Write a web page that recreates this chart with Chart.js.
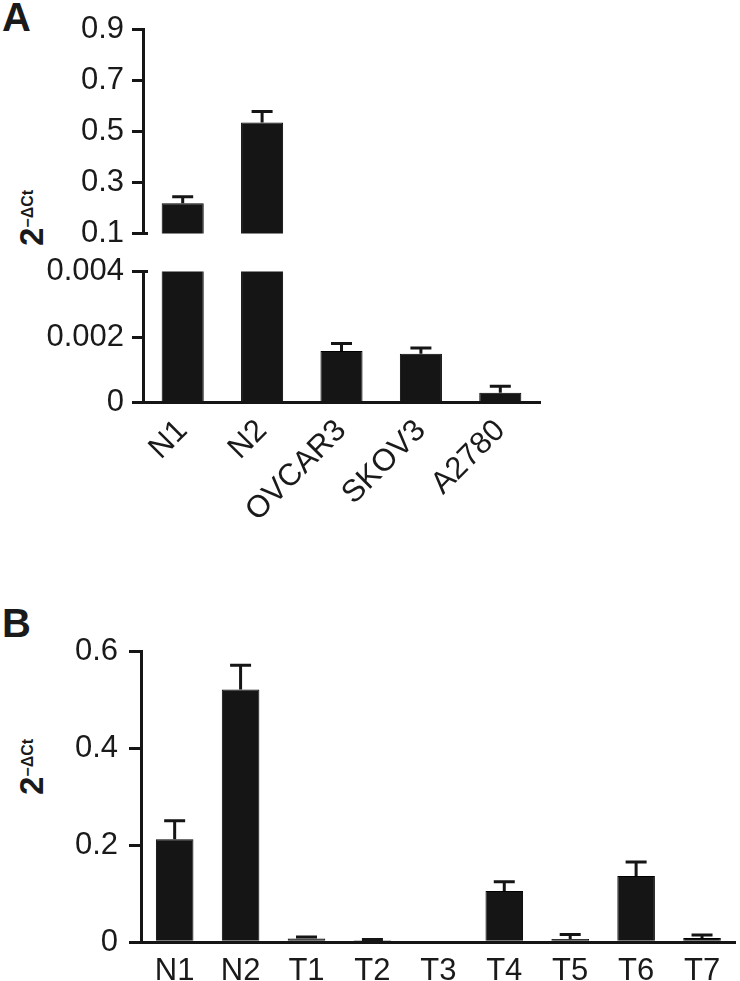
<!doctype html>
<html lang="en">
<head>
<meta charset="utf-8">
<title>2-ΔCt expression</title>
<style>
  body { margin: 0; background: #fff; }
  #wrap { position: relative; width: 740px; height: 981px; overflow: hidden;
          font-family: 'Liberation Sans', Arial, Helvetica, sans-serif; color: #1a1a1a; }
  canvas { position: absolute; left: 0; }
  .panel { position: absolute; left: 2px; font-weight: bold; font-size: 40px; line-height: 40px; }
  .ytitle { position: absolute; transform: translate(-50%, -50%) rotate(-90deg);
            font-weight: bold; font-size: 33px; line-height: 33px; white-space: nowrap; }
  .ytitle sup { font-size: 16px; vertical-align: 10px; }
</style>
<script src="https://cdn.jsdelivr.net/npm/chart.js@4.4.1/dist/chart.umd.min.js"></script>
</head>
<body>
<div id="wrap">
  <div class="panel" style="top:-3px">A</div>
  <div class="ytitle" style="left:29px; top:218px">2<sup>&minus;&Delta;Ct</sup></div>
  <canvas id="aTop" width="740" height="260" style="top:0"></canvas>
  <canvas id="aBot" width="740" height="300" style="top:245px"></canvas>

  <div class="panel" style="top:603px">B</div>
  <div class="ytitle" style="left:29px; top:767px">2<sup>&minus;&Delta;Ct</sup></div>
  <canvas id="b" width="740" height="381" style="top:600px"></canvas>
</div>

<script>
// panel A: cell lines (broken axis)
var catsA = ['N1', 'N2', 'OVCAR3', 'SKOV3', 'A2780'];
var valsA = [0.218, 0.534, 0.00158, 0.00149, 0.0003];
var errsA = [0.025, 0.043, 0.00023, 0.00018, 0.0002];
var ticksTop = [0.1, 0.3, 0.5, 0.7, 0.9];
var ticksBot = [0, 0.002, 0.004];

// panel B: tissues
var catsB = ['N1', 'N2', 'T1', 'T2', 'T3', 'T4', 'T5', 'T6', 'T7'];
var valsB = [0.213, 0.522, 0.008, 0.004, 0, 0.106, 0.007, 0.137, 0.009];
var errsB = [0.038, 0.050, 0.003, 0.002, 0, 0.019, 0.009, 0.029, 0.006];
var ticksB = [0, 0.2, 0.4, 0.6];

var INK = '#151515';
var TICK_FONT = { size: 31 };
Chart.defaults.font.family = "'Liberation Sans', Arial, Helvetica, sans-serif";
Chart.defaults.color = '#1a1a1a';
Chart.defaults.animation = false;

// one-sided error bars (+SD) and the little axis-break stub
var errorBars = {
  id: 'errorBars',
  afterDatasetsDraw: function(chart, args, opts) {
    var ctx = chart.ctx, y = chart.scales.y;
    var data = chart.data.datasets[0].data;
    var bars = chart.getDatasetMeta(0).data;
    ctx.save();
    ctx.strokeStyle = INK;
    ctx.lineWidth = 3;
    ctx.beginPath();
    bars.forEach(function(bar, i) {
      var v = data[i], e = opts.errors[i];
      if (!e || v < y.min || v > y.max) return;
      var y0 = y.getPixelForValue(v), y1 = y.getPixelForValue(v + e);
      ctx.moveTo(bar.x, y0); ctx.lineTo(bar.x, y1);
      ctx.moveTo(bar.x - opts.cap, y1); ctx.lineTo(bar.x + opts.cap, y1);
    });
    if (opts.breakAt != null) {
      var py = y.getPixelForValue(opts.breakAt);
      ctx.moveTo(chart.chartArea.left, py); ctx.lineTo(chart.chartArea.left + 5, py);
    }
    ctx.stroke();
    ctx.restore();
  }
};

function yAxis(min, max, ticks, fmt, width, tickLen, pad) {
  return {
    min: min, max: max,
    afterFit: function(s) { s.width = width; },
    afterBuildTicks: function(s) { s.ticks = ticks.map(function(v) { return { value: v }; }); },
    border: { color: INK, width: 3 },
    grid: { drawOnChartArea: false, color: INK, lineWidth: 3, tickLength: tickLen },
    ticks: { font: TICK_FONT, padding: pad, callback: fmt }
  };
}

function barSet(vals, pct) {
  return { data: vals, backgroundColor: INK, borderColor: '#000', borderWidth: 1,
           barPercentage: pct, categoryPercentage: 1 };
}

var noChrome = { legend: { display: false }, tooltip: { enabled: false } };

new Chart(document.getElementById('aTop'), {
  type: 'bar',
  data: { labels: catsA, datasets: [barSet(valsA, 0.53)] },
  options: {
    responsive: false,
    layout: { padding: { top: 29, bottom: 20.7, left: 0, right: 200 } },
    plugins: Object.assign({ errorBars: { errors: errsA, cap: 10.5, breakAt: 0.1 } }, noChrome),
    scales: {
      x: { display: false },
      y: yAxis(0.1, 0.9, ticksTop, function(v) { return v.toFixed(1); }, 143, 11, 8)
    }
  },
  plugins: [errorBars]
});

new Chart(document.getElementById('aBot'), {
  type: 'bar',
  data: { labels: catsA, datasets: [barSet(valsA, 0.53)] },
  options: {
    responsive: false,
    layout: { padding: { top: 19, bottom: 0, left: 0, right: 200 } },
    plugins: Object.assign({ errorBars: { errors: errsA, cap: 10.5, breakAt: 0.004 } }, noChrome),
    scales: {
      x: {
        afterFit: function(s) { s.height = 142.3; },
        grid: { display: false },
        border: { color: INK, width: 3 },
        ticks: { font: TICK_FONT, minRotation: 45, maxRotation: 45, autoSkip: false, padding: 2 }
      },
      y: yAxis(0, 0.004, ticksBot, function(v) { return v === 0 ? '0' : v.toFixed(3); }, 143, 11, 8)
    }
  },
  plugins: [errorBars]
});

new Chart(document.getElementById('b'), {
  type: 'bar',
  data: { labels: catsB, datasets: [barSet(valsB, 0.57)] },
  options: {
    responsive: false,
    layout: { padding: { top: 51.7, bottom: 0, left: 0, right: 5 } },
    plugins: Object.assign({ errorBars: { errors: errsB, cap: 10.5 } }, noChrome),
    scales: {
      x: {
        afterFit: function(s) { s.height = 38.7; },
        grid: { display: false },
        border: { color: INK, width: 3 },
        ticks: { font: TICK_FONT, maxRotation: 0, autoSkip: false, padding: 3 }
      },
      y: yAxis(0, 0.6, ticksB, function(v) { return v === 0 ? '0' : v.toFixed(1); }, 141.7, 12.7, 11)
    }
  },
  plugins: [errorBars]
});
</script>
</body>
</html>
